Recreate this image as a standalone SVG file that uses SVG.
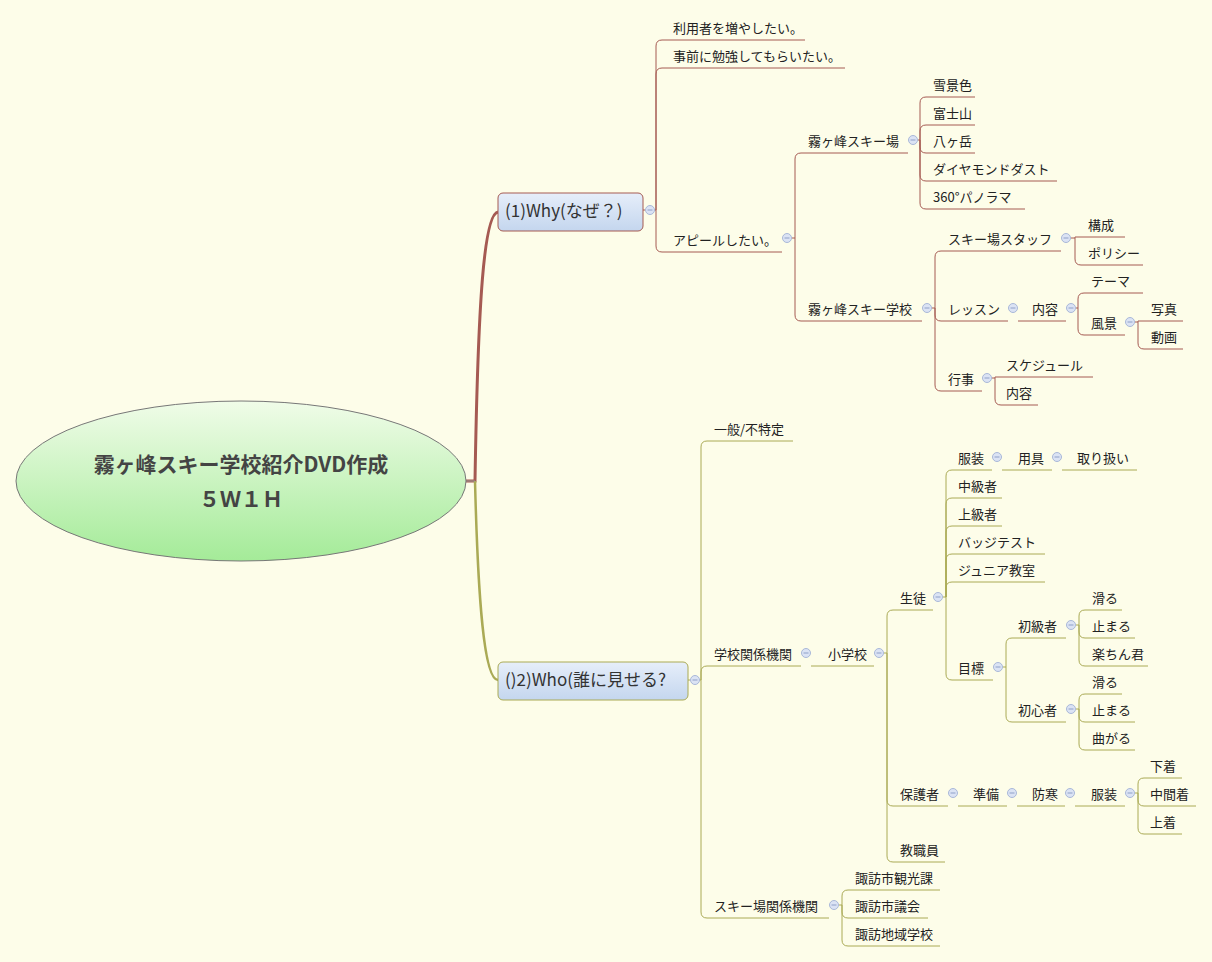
<svg xmlns="http://www.w3.org/2000/svg" width="1212" height="962" viewBox="0 0 1212 962">
<defs>
<linearGradient id="cg" x1="0" y1="0" x2="0" y2="1"><stop offset="0" stop-color="#f0fce8"/><stop offset="1" stop-color="#a4eb98"/></linearGradient>
<linearGradient id="bg" x1="0" y1="0" x2="0" y2="1"><stop offset="0" stop-color="#e6eefa"/><stop offset="1" stop-color="#c4d6ee"/></linearGradient>
<g id="m"><circle r="4.5" fill="#dbe3f4" stroke="#a9b8d8" stroke-width="1"/><line x1="-2.5" x2="2.5" y1="0" y2="0" stroke="#8fa0c8" stroke-width="1"/></g>
</defs>
<style>
text{font-family:"Noto Sans CJK JP","Liberation Sans",sans-serif;font-size:13px;fill:#222}
.r{fill:none;stroke:#a55a52;stroke-width:1}
.g{fill:none;stroke:#aaaa55;stroke-width:1}
.t{font-size:17px;fill:#333}
</style>
<rect width="1212" height="962" fill="#fdfde9"/>
<g id="connectors">
<path d="M466,481 L475,481 C478,300 484,214 498,212" fill="none" stroke="#a55a52" stroke-width="3"/>
<path d="M475,481 C478,600 484,680 498,680" fill="none" stroke="#aaaa55" stroke-width="2.5"/>
<g class="r">
<path d="M643,210 L645,210 M655,210 L656,210"/>
<path d="M656,210 L656,46 Q656,40 662,40 L805,40"/>
<path d="M656,210 L656,74 Q656,68 662,68 L845,68"/>
<path d="M656,210 L656,246 Q656,252 662,252 L782,252"/>
<path d="M792,238 L795,238"/>
<path d="M795,238 L795,159 Q795,153 801,153 L908,153"/>
<path d="M795,238 L795,315 Q795,321 801,321 L922,321"/>
<path d="M918,140 L920,140"/>
<path d="M920,140 L920,103 Q920,97 926,97 L975,97"/>
<path d="M920,140 L920,131 Q920,125 926,125 L975,125"/>
<path d="M920,140 L920,147 Q920,153 926,153 L975,153"/>
<path d="M920,140 L920,175 Q920,181 926,181 L1057,181"/>
<path d="M920,140 L920,203 Q920,209 926,209 L1025,209"/>
<path d="M932,308 L935,308"/>
<path d="M935,308 L935,257 Q935,251 941,251 L1061,251"/>
<path d="M935,308 L935,315 Q935,321 941,321 L1008,321 M1018,321 L1066,321"/>
<path d="M935,308 L935,385 Q935,391 941,391 L982,391"/>
<path d="M1071,238 L1075,238"/>
<path d="M1075,238 L1075,237 L1125,237"/>
<path d="M1075,238 L1075,259 Q1075,265 1081,265 L1143,265"/>
<path d="M1076,308 L1078,308"/>
<path d="M1078,308 L1078,299 Q1078,293 1084,293 L1143,293"/>
<path d="M1078,308 L1078,329 Q1078,335 1084,335 L1125,335"/>
<path d="M1135,322 L1138,322"/>
<path d="M1138,322 L1138,321 L1183,321"/>
<path d="M1138,322 L1138,343 Q1138,349 1144,349 L1183,349"/>
<path d="M992,378 L995,378"/>
<path d="M995,378 L995,377 L1093,377"/>
<path d="M995,378 L995,399 Q995,405 1001,405 L1038,405"/>
</g>
<g class="g">
<path d="M688,680 L690,680 M700,680 L701,680"/>
<path d="M701,680 L701,447 Q701,441 707,441 L793,441"/>
<path d="M701,680 L701,672 Q701,666 707,666 L801,666 M811,666 L874,666"/>
<path d="M701,680 L701,912 Q701,918 707,918 L829,918"/>
<path d="M884,653 L887,653"/>
<path d="M887,653 L887,616 Q887,610 893,610 L933,610"/>
<path d="M887,653 L887,800 Q887,806 893,806 L948,806 M958,806 L1007,806 M1017,806 L1065,806 M1075,806 L1125,806"/>
<path d="M887,653 L887,856 Q887,862 893,862 L945,862"/>
<path d="M943,597 L946,597"/>
<path d="M946,597 L946,476 Q946,470 952,470 L992,470 M1002,470 L1052,470 M1062,470 L1137,470"/>
<path d="M946,597 L946,504 Q946,498 952,498 L1002,498"/>
<path d="M946,597 L946,532 Q946,526 952,526 L1002,526"/>
<path d="M946,597 L946,560 Q946,554 952,554 L1045,554"/>
<path d="M946,597 L946,588 Q946,582 952,582 L1045,582"/>
<path d="M946,597 L946,674 Q946,680 952,680 L993,680"/>
<path d="M1003,667 L1006,667"/>
<path d="M1006,667 L1006,644 Q1006,638 1012,638 L1066,638"/>
<path d="M1006,667 L1006,716 Q1006,722 1012,722 L1066,722"/>
<path d="M1076,625 L1079,625"/>
<path d="M1079,625 L1079,616 Q1079,610 1085,610 L1122,610"/>
<path d="M1079,625 L1079,632 Q1079,638 1085,638 L1135,638"/>
<path d="M1079,625 L1079,660 Q1079,666 1085,666 L1148,666"/>
<path d="M1076,709 L1079,709"/>
<path d="M1079,709 L1079,700 Q1079,694 1085,694 L1122,694"/>
<path d="M1079,709 L1079,716 Q1079,722 1085,722 L1135,722"/>
<path d="M1079,709 L1079,744 Q1079,750 1085,750 L1135,750"/>
<path d="M1135,793 L1138,793"/>
<path d="M1138,793 L1138,784 Q1138,778 1144,778 L1182,778"/>
<path d="M1138,793 L1138,800 Q1138,806 1144,806 L1196,806"/>
<path d="M1138,793 L1138,828 Q1138,834 1144,834 L1182,834"/>
<path d="M839,905 L842,905"/>
<path d="M842,905 L842,896 Q842,890 848,890 L940,890"/>
<path d="M842,905 L842,912 Q842,918 848,918 L928,918"/>
<path d="M842,905 L842,940 Q842,946 848,946 L940,946"/>
</g>
<line x1="466" y1="481" x2="475" y2="481" stroke="#999"/>
</g>
<g id="center"><ellipse cx="241" cy="481" rx="225" ry="80" fill="url(#cg)" stroke="#777"/>
<text x="241" y="472" text-anchor="middle" style="font-size:21px;font-weight:bold;fill:#444">霧ヶ峰スキー学校紹介DVD作成</text>
<text x="241" y="507" text-anchor="middle" style="font-size:21px;font-weight:bold;fill:#444">５Ｗ１Ｈ</text></g>
<g id="why"><rect x="498" y="193" width="145" height="38" rx="5" fill="url(#bg)" stroke="#a55a52"/><text class="t" x="505" y="217">(1)Why(なぜ？)</text><use href="#m" x="650" y="210"/></g>
<g id="who"><rect x="498" y="662" width="190" height="38" rx="5" fill="url(#bg)" stroke="#aaaa55"/><text class="t" x="505" y="686">()2)Who(誰に見せる?</text><use href="#m" x="695" y="680"/></g>
<g id="why-nodes">
<text x="673" y="33">利用者を増やしたい。</text>
<text x="673" y="61">事前に勉強してもらいたい。</text>
<text x="673" y="245">アピールしたい。</text><use href="#m" x="787" y="238"/>
<text x="808" y="146">霧ヶ峰スキー場</text><use href="#m" x="913" y="140"/>
<text x="933" y="90">雪景色</text><text x="933" y="118">富士山</text><text x="933" y="146">八ヶ岳</text><text x="933" y="174">ダイヤモンドダスト</text><text x="933" y="202">360°パノラマ</text>
<text x="808" y="314">霧ヶ峰スキー学校</text><use href="#m" x="927" y="308"/>
<text x="948" y="244">スキー場スタッフ</text><use href="#m" x="1066" y="238"/>
<text x="1088" y="230">構成</text><text x="1088" y="258">ポリシー</text>
<text x="948" y="314">レッスン</text><use href="#m" x="1013" y="308"/>
<text x="1032" y="314">内容</text><use href="#m" x="1071" y="308"/>
<text x="1091" y="286">テーマ</text><text x="1091" y="328">風景</text><use href="#m" x="1130" y="322"/>
<text x="1151" y="314">写真</text><text x="1151" y="342">動画</text>
<text x="948" y="384">行事</text><use href="#m" x="987" y="378"/>
<text x="1006" y="370">スケジュール</text><text x="1006" y="398">内容</text>
</g>
<g id="who-nodes">
<text x="714" y="434">一般/不特定</text>
<text x="714" y="659">学校関係機関</text><use href="#m" x="806" y="653"/>
<text x="828" y="659">小学校</text><use href="#m" x="879" y="653"/>
<text x="900" y="603">生徒</text><use href="#m" x="938" y="597"/>
<text x="958" y="463">服装</text><use href="#m" x="997" y="457"/>
<text x="1018" y="463">用具</text><use href="#m" x="1057" y="457"/>
<text x="1077" y="463">取り扱い</text>
<text x="958" y="491">中級者</text><text x="958" y="519">上級者</text><text x="958" y="547">バッジテスト</text><text x="958" y="575">ジュニア教室</text>
<text x="958" y="673">目標</text><use href="#m" x="998" y="667"/>
<text x="1018" y="631">初級者</text><use href="#m" x="1071" y="625"/>
<text x="1092" y="603">滑る</text><text x="1092" y="631">止まる</text><text x="1092" y="659">楽ちん君</text>
<text x="1018" y="715">初心者</text><use href="#m" x="1071" y="709"/>
<text x="1092" y="687">滑る</text><text x="1092" y="715">止まる</text><text x="1092" y="743">曲がる</text>
<text x="900" y="799">保護者</text><use href="#m" x="953" y="793"/>
<text x="973" y="799">準備</text><use href="#m" x="1012" y="793"/>
<text x="1032" y="799">防寒</text><use href="#m" x="1070" y="793"/>
<text x="1091" y="799">服装</text><use href="#m" x="1130" y="793"/>
<text x="1150" y="771">下着</text><text x="1150" y="799">中間着</text><text x="1150" y="827">上着</text>
<text x="900" y="855">教職員</text>
<text x="714" y="911">スキー場関係機関</text><use href="#m" x="834" y="905"/>
<text x="855" y="883">諏訪市観光課</text><text x="855" y="911">諏訪市議会</text><text x="855" y="939">諏訪地域学校</text>
</g>
</svg>
